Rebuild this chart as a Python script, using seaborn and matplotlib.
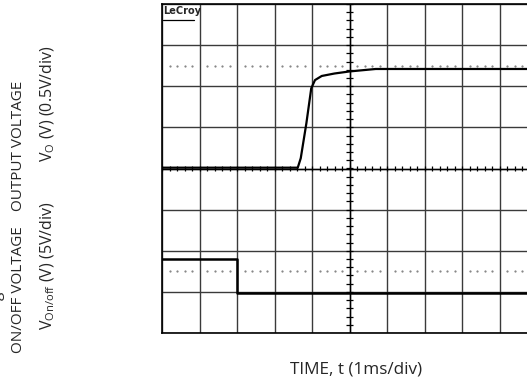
import numpy as np
import matplotlib
matplotlib.use("Agg")
import matplotlib.pyplot as plt
import seaborn as sns

# Scope traces, in screen divisions (x: 0..10 div, y: -4..4 div, centre = 0)
out_time = [0.0, 3.62, 3.70, 3.85, 3.98, 4.08, 4.26, 4.60, 5.00, 5.70, 10.0]
out_level = [0.02, 0.02, 0.25, 1.10, 1.95, 2.15, 2.25, 2.31, 2.36, 2.42, 2.42]

onoff_time = [0.0, 2.0, 2.0, 10.0]
onoff_level = [-2.2, -2.2, -3.02, -3.02]

cursor_levels = [2.5, -2.5]

x_label = "TIME, t (1ms/div)"
y_titles = ["ON/OFF VOLTAGE", "OUTPUT VOLTAGE"]
y_units = [r"V$_{\mathregular{On/off}}$ (V) (5V/div)", r"V$_{\mathregular{O}}$ (V) (0.5V/div)"]

sns.set_style("white")
plt.rcParams["font.family"] = ["Open Sans", "DejaVu Sans"]

fig = plt.figure(figsize=(5.27, 3.85), dpi=100)
ax = fig.add_axes([162 / 527, 52 / 385, 375 / 527, 329 / 385])
ax.set_xlim(0, 10)
ax.set_ylim(-4, 4)

# graticule
ax.set_xticks(np.arange(0, 11))
ax.set_yticks(np.arange(-4, 5))
ax.grid(True, color="#3a3a3a", linewidth=1.0)
ax.tick_params(length=0, labelbottom=False, labelleft=False)
for s in ax.spines.values():
    s.set_color("black")
    s.set_linewidth(1.2)

# centre axes with minor ticks
minor = np.arange(0, 10.01, 0.2)
ax.vlines(minor, -0.07, 0.07, color="black", linewidth=0.9)
minor_y = np.arange(-4, 4.01, 0.2)
ax.hlines(minor_y, 4.9, 5.1, color="black", linewidth=0.9)
ax.axhline(0, color="black", linewidth=1.0)
ax.axvline(5, color="black", linewidth=1.0)

# dotted cursor rows
dots_x = np.concatenate([d + np.array([0.2, 0.4, 0.6, 0.8]) for d in range(10)])
for lv in cursor_levels:
    ax.plot(dots_x, np.full_like(dots_x, lv), ls="none", marker="s",
            markersize=0.6, color="#888888")

sns.lineplot(x=out_time, y=out_level, estimator=None, sort=False,
             color="black", linewidth=1.6, ax=ax)
sns.lineplot(x=onoff_time, y=onoff_level, estimator=None, sort=False,
             color="black", linewidth=1.8, ax=ax)

ax.text(0.03, 3.95, "LeCroy", fontsize=7, fontweight="bold", family="DejaVu Sans",
        va="top", ha="left")
ax.plot([0.03, 0.85], [3.6, 3.6], color="black", linewidth=0.9)

fig.text(356 / 527, 1 - 370 / 385, x_label, ha="center", va="center", fontsize=12.3)
fig.text(19 / 527, 1 - 290 / 385, y_titles[0], rotation=90, ha="center", va="center", fontsize=11)
fig.text(19 / 527, 1 - 146 / 385, y_titles[1], rotation=90, ha="center", va="center", fontsize=11)
fig.text(48 / 527, 1 - 266 / 385, y_units[0], rotation=90, ha="center", va="center", fontsize=11.5)
fig.text(48 / 527, 1 - 104 / 385, y_units[1], rotation=90, ha="center", va="center", fontsize=11.5)
# clipped descender of the line above the axis title
fig.text(5 / 527, 1 - 296 / 385, "g", rotation=90, ha="right", va="center", fontsize=11)

fig.savefig("out.png", dpi=100)
